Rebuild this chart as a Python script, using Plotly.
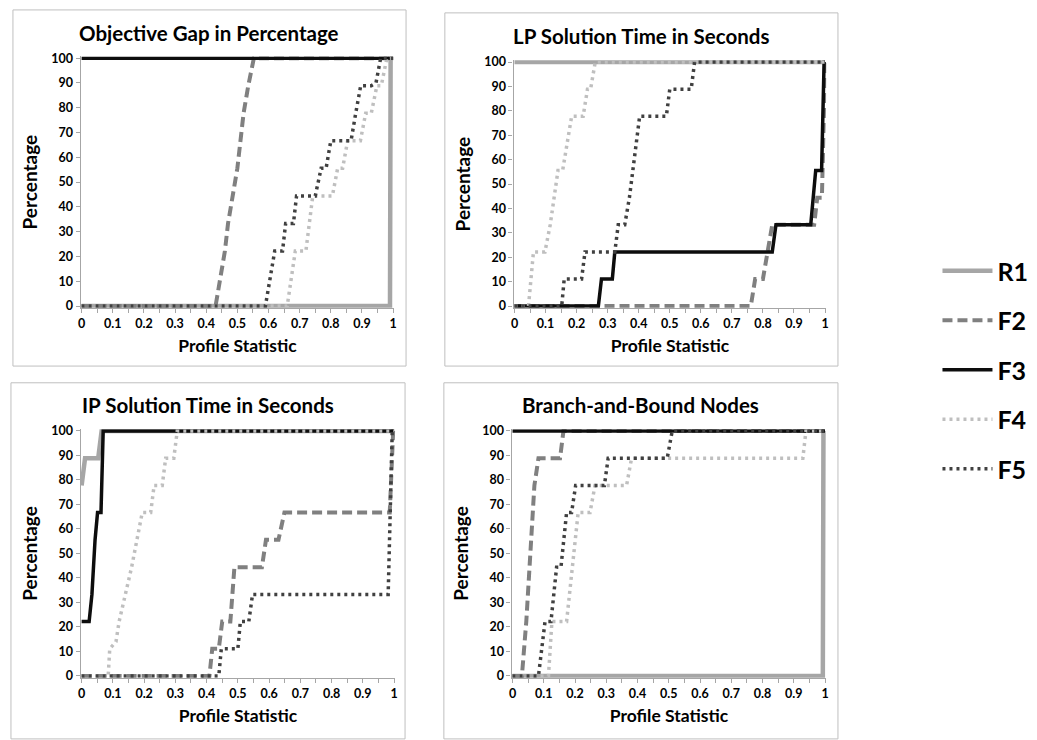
import plotly.graph_objects as go

W, H = 1037, 740
FONT = "Lato"

series_names = ["R1", "F2", "F3", "F4", "F5"]
panel_titles = ["Objective Gap in Percentage", "LP Solution Time in Seconds",
                "IP Solution Time in Seconds", "Branch-and-Bound Nodes"]
x_ticks = [0, 0.1, 0.2, 0.3, 0.4, 0.5, 0.6, 0.7, 0.8, 0.9, 1]
y_ticks = [0, 10, 20, 30, 40, 50, 60, 70, 80, 90, 100]

# ---- Panel 1: Objective Gap in Percentage ----
gap_R1_x = [0, 0.99, 0.992, 1.0]
gap_R1_y = [0, 0, 100, 100]
gap_F2_x = [0, 0.43, 0.445, 0.46, 0.47, 0.485, 0.50, 0.51, 0.52, 0.535, 0.553, 1.0]
gap_F2_y = [0, 0, 11.1, 22.2, 33.3, 44.4, 55.6, 66.7, 77.8, 88.9, 100, 100]
gap_F3_x = [0, 1.0]
gap_F3_y = [100, 100]
gap_F4_x = [0, 0.66, 0.686, 0.72, 0.742, 0.805, 0.822, 0.838, 0.854, 0.895, 0.912, 0.93, 0.948, 0.962, 0.98, 1.0]
gap_F4_y = [0, 0, 22.2, 22.2, 44.4, 44.4, 55.6, 55.6, 66.7, 66.7, 77.8, 77.8, 88.9, 88.9, 100, 100]
gap_F5_x = [0, 0.59, 0.62, 0.645, 0.655, 0.68, 0.69, 0.75, 0.769, 0.785, 0.80, 0.865, 0.88, 0.896, 0.93, 0.945, 0.96, 1.0]
gap_F5_y = [0, 0, 22.2, 22.2, 33.3, 33.3, 44.4, 44.4, 55.6, 55.6, 66.7, 66.7, 77.8, 88.9, 88.9, 90, 100, 100]

# ---- Panel 2: LP Solution Time in Seconds ----
lp_R1_x = [0, 1.0]
lp_R1_y = [100, 100]
lp_F2_x = [0, 0.761, 0.775, 0.80, 0.815, 0.83, 0.965, 0.975, 0.99, 0.997, 1.0]
lp_F2_y = [0, 0, 11.1, 11.1, 22.2, 33.3, 33.3, 44.4, 44.4, 100, 100]
lp_F3_x = [0, 0.27, 0.28, 0.315, 0.323, 0.83, 0.842, 0.954, 0.97, 0.989, 0.997, 1.0]
lp_F3_y = [0, 0, 11.1, 11.1, 22.2, 22.2, 33.3, 33.3, 55.6, 55.6, 100, 100]
lp_F4_x = [0, 0.045, 0.061, 0.098, 0.115, 0.14, 0.155, 0.184, 0.221, 0.235, 0.245, 0.26, 1.0]
lp_F4_y = [0, 0, 22.2, 22.2, 33.3, 55.6, 55.6, 77.8, 77.8, 88.9, 88.9, 100, 100]
lp_F5_x = [0, 0.152, 0.16, 0.216, 0.227, 0.323, 0.334, 0.355, 0.37, 0.403, 0.489, 0.50, 0.569, 0.58, 1.0]
lp_F5_y = [0, 0, 11.1, 11.1, 22.2, 22.2, 33.3, 33.3, 44.4, 77.8, 77.8, 88.9, 88.9, 100, 100]

# ---- Panel 3: IP Solution Time in Seconds ----
ip_R1_x = [0, 0.011, 0.053, 0.064, 1.0]
ip_R1_y = [77.8, 88.9, 88.9, 100, 100]
ip_F2_x = [0, 0.409, 0.418, 0.439, 0.45, 0.476, 0.489, 0.577, 0.59, 0.63, 0.649, 0.986, 0.997, 1.0]
ip_F2_y = [0, 0, 11.1, 11.1, 22.2, 22.2, 44.4, 44.4, 55.6, 55.6, 66.7, 66.7, 100, 100]
ip_F3_x = [0, 0.024, 0.033, 0.043, 0.051, 0.062, 0.069, 1.0]
ip_F3_y = [22.2, 22.2, 33.3, 55.6, 66.7, 66.7, 100, 100]
ip_F4_x = [0, 0.085, 0.09, 0.11, 0.12, 0.14, 0.16, 0.194, 0.221, 0.232, 0.258, 0.269, 0.295, 0.306, 1.0]
ip_F4_y = [0, 0, 11.1, 14, 22.2, 33.3, 44.4, 66.7, 66.7, 77.8, 77.8, 88.9, 88.9, 100, 100]
ip_F5_x = [0, 0.439, 0.447, 0.50, 0.508, 0.535, 0.547, 0.981, 0.994, 1.0]
ip_F5_y = [0, 0, 11.1, 11.1, 22.2, 22.2, 33.3, 33.3, 100, 100]

# ---- Panel 4: Branch-and-Bound Nodes ----
bb_R1_x = [0, 0.993, 0.995, 1.0]
bb_R1_y = [0, 0, 100, 100]
bb_F2_x = [0, 0.03, 0.044, 0.06, 0.07, 0.083, 0.152, 0.163, 1.0]
bb_F2_y = [0, 0, 22.2, 55.6, 77.8, 88.9, 88.9, 100, 100]
bb_F3_x = [0, 1.0]
bb_F3_y = [100, 100]
bb_F4_x = [0, 0.115, 0.126, 0.173, 0.21, 0.248, 0.264, 0.365, 0.381, 0.929, 0.939, 1.0]
bb_F4_y = [0, 0, 22.2, 22.2, 66.7, 66.7, 77.8, 77.8, 88.9, 88.9, 100, 100]
bb_F5_x = [0, 0.083, 0.104, 0.123, 0.141, 0.155, 0.173, 0.189, 0.202, 0.294, 0.306, 0.495, 0.511, 1.0]
bb_F5_y = [0, 0, 22.2, 22.2, 44.4, 44.4, 66.7, 66.7, 77.8, 77.8, 88.9, 88.9, 100, 100]

panels = [
    {"R1": (gap_R1_x, gap_R1_y), "F2": (gap_F2_x, gap_F2_y), "F3": (gap_F3_x, gap_F3_y),
     "F4": (gap_F4_x, gap_F4_y), "F5": (gap_F5_x, gap_F5_y)},
    {"R1": (lp_R1_x, lp_R1_y), "F2": (lp_F2_x, lp_F2_y), "F3": (lp_F3_x, lp_F3_y),
     "F4": (lp_F4_x, lp_F4_y), "F5": (lp_F5_x, lp_F5_y)},
    {"R1": (ip_R1_x, ip_R1_y), "F2": (ip_F2_x, ip_F2_y), "F3": (ip_F3_x, ip_F3_y),
     "F4": (ip_F4_x, ip_F4_y), "F5": (ip_F5_x, ip_F5_y)},
    {"R1": (bb_R1_x, bb_R1_y), "F2": (bb_F2_x, bb_F2_y), "F3": (bb_F3_x, bb_F3_y),
     "F4": (bb_F4_x, bb_F4_y), "F5": (bb_F5_x, bb_F5_y)},
]

styles = {
    "R1": dict(color="#a6a6a6", width=4.5, dash="solid"),
    "F2": dict(color="#808080", width=4, dash="10px,5px"),
    "F3": dict(color="#0d0d0d", width=3.5, dash="solid"),
    "F4": dict(color="#bfbfbf", width=3.5, dash="3px,4px"),
    "F5": dict(color="#404040", width=3.5, dash="3px,4px"),
}

# pixel layout of each panel: x pixel of 0 and 1, y pixel of 0 and 100, chart-area box
geo = [
    dict(x0=79, x1=392, y0=305, y100=53, box=(10, 4, 405, 366)),
    dict(x0=514, x1=826, y0=305, y100=57, box=(444, 7, 839, 366)),
    dict(x0=79, x1=393, y0=681, y100=432, box=(8, 383, 404, 745)),
    dict(x0=512, x1=826, y0=681, y100=432, box=(443, 383, 839, 745)),
]
XR = [-0.003, 1.004]
YR = [-0.7, 100.7]

fig = go.Figure()
bold = dict(family=FONT, color="#000000", weight="bold")

for i, (pdata, g) in enumerate(zip(panels, geo)):
    k = "" if i == 0 else str(i + 1)
    for name in series_names:
        xs, ys = pdata[name]
        st = styles[name]
        fig.add_trace(go.Scatter(
            x=xs, y=ys, mode="lines", name=name,
            line=dict(color=st["color"], width=st["width"], dash=st["dash"]),
            xaxis="x" + k, yaxis="y" + k,
            showlegend=(i == 0), legendgroup=name,
            hoverinfo="skip",
        ))
    sx = (g["x1"] - g["x0"])
    dx = [(g["x0"] + XR[0] * sx) / W, (g["x0"] + XR[1] * sx) / W]
    sy = (g["y0"] - g["y100"]) / 100.0
    dy = [1 - (g["y0"] - YR[0] * sy) / H, 1 - (g["y0"] - YR[1] * sy) / H]
    fig.update_layout(**{
        "xaxis" + k: dict(
            domain=dx, range=XR, anchor="y" + k, tickvals=x_ticks,
            ticktext=[f"{v:g}" for v in x_ticks],
            ticks="outside", ticklen=4, tickcolor="#a6a6a6",
            minor=dict(tickvals=[v + 0.05 for v in x_ticks[:-1]], ticks="outside",
                       ticklen=4, tickcolor="#a6a6a6"),
            showline=True, linecolor="#a6a6a6", linewidth=1.2,
            showgrid=False, zeroline=False,
            tickfont=dict(size=12.5, **bold),
            title=dict(text="Profile Statistic", font=dict(size=17.5, **bold), standoff=9),
        ),
        "yaxis" + k: dict(
            domain=dy, range=YR, anchor="x" + k, tickvals=y_ticks,
            ticks="outside", ticklen=4, tickcolor="#a6a6a6",
            showline=True, linecolor="#a6a6a6", linewidth=1.2,
            showgrid=False, zeroline=False,
            tickfont=dict(size=12.5, **bold),
            title=dict(text="Percentage", font=dict(size=19, **bold), standoff=8),
        ),
    })
    bx0, by0, bx1, by1 = g["box"]
    fig.add_shape(type="rect", xref="paper", yref="paper",
                  x0=bx0 / W, x1=bx1 / W, y0=1 - by1 / H, y1=1 - by0 / H,
                  line=dict(color="#bfbfbf", width=1), fillcolor="rgba(0,0,0,0)", layer="below")
    fig.add_annotation(text=panel_titles[i], xref="paper", yref="paper",
                       x=(bx0 + bx1) / 2 / W, y=1 - (by0 + 23) / H,
                       showarrow=False, xanchor="center", yanchor="middle",
                       font=dict(size=20.5, **bold))

fig.update_layout(
    width=W, height=H,
    margin=dict(l=0, r=0, t=0, b=0),
    paper_bgcolor="white", plot_bgcolor="white",
    showlegend=True,
    legend=dict(x=939 / W, y=1 - 246 / H, xanchor="left", yanchor="top",
                font=dict(size=25, **bold), itemwidth=50,
                tracegroupgap=14, bgcolor="rgba(0,0,0,0)",
                itemclick=False, itemdoubleclick=False),
)

fig.write_html("out.html", config={"displayModeBar": False},
               post_script="document.body.style.margin='0';document.body.style.overflow='hidden';")
